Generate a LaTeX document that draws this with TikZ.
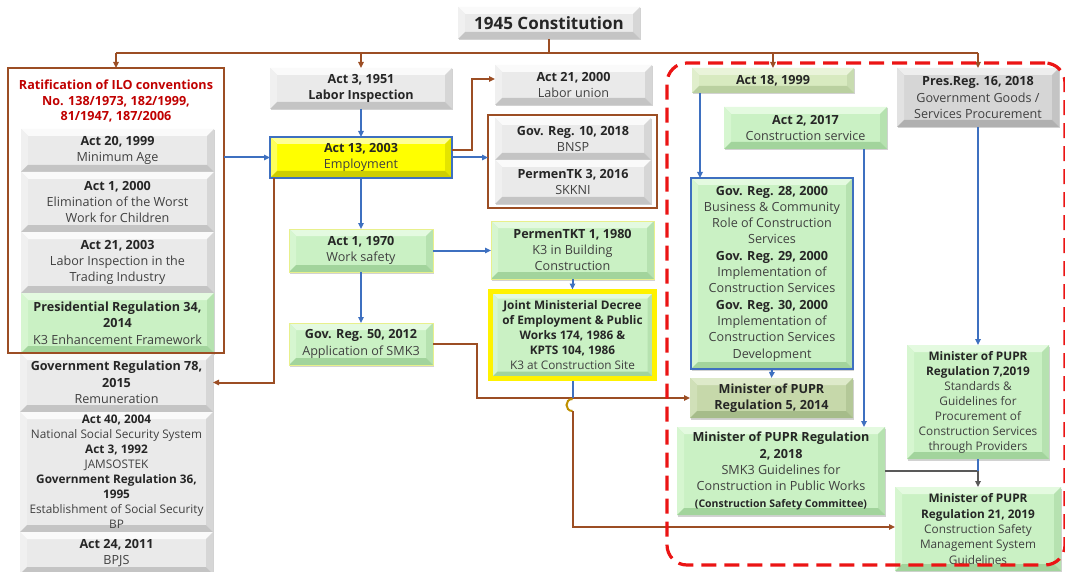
\documentclass[tikz,border=0pt]{standalone}
\usepackage{fontspec}
\setmainfont{Open Sans}
\usetikzlibrary{arrows.meta,shadows,calc}

\definecolor{brn}{RGB}{156,78,36}
\definecolor{blu}{RGB}{62,112,192}
\definecolor{gld}{RGB}{191,144,0}
\definecolor{gryl}{RGB}{89,89,89}
\definecolor{redd}{RGB}{235,20,20}
\definecolor{redt}{RGB}{192,0,0}
\definecolor{hdc}{RGB}{38,38,38}
\definecolor{rgc}{RGB}{64,64,64}
% gray
\definecolor{gF}{RGB}{234,234,234}\definecolor{gT}{RGB}{250,250,250}
\definecolor{gL}{RGB}{240,240,240}\definecolor{gR}{RGB}{214,214,214}\definecolor{gB}{RGB}{196,196,196}
% dark gray
\definecolor{dF}{RGB}{214,214,214}\definecolor{dT}{RGB}{238,238,238}
\definecolor{dL}{RGB}{226,226,226}\definecolor{dR}{RGB}{196,196,196}\definecolor{dB}{RGB}{176,176,176}
% green
\definecolor{nF}{RGB}{202,241,196}\definecolor{nT}{RGB}{228,250,224}
\definecolor{nL}{RGB}{214,246,208}\definecolor{nR}{RGB}{182,226,176}\definecolor{nB}{RGB}{162,212,156}
% yellow
\definecolor{yF}{RGB}{255,255,0}\definecolor{yT}{RGB}{255,255,150}
\definecolor{yL}{RGB}{255,255,90}\definecolor{yR}{RGB}{228,228,0}\definecolor{yB}{RGB}{206,206,0}
% olive light
\definecolor{oF}{RGB}{216,234,192}\definecolor{oT}{RGB}{234,244,218}
\definecolor{oL}{RGB}{224,238,204}\definecolor{oR}{RGB}{200,220,176}\definecolor{oB}{RGB}{186,208,160}
% olive dark
\definecolor{pF}{RGB}{198,216,170}\definecolor{pT}{RGB}{222,234,202}
\definecolor{pL}{RGB}{208,224,184}\definecolor{pR}{RGB}{180,200,152}\definecolor{pB}{RGB}{166,188,138}
\definecolor{ybd}{RGB}{232,240,140}

\newcommand\fs[2]{\fontsize{#1}{#2}\selectfont}
\newcommand\hb[1]{{\bfseries\color{hdc}#1}}
\def\bw{7pt}
\newcommand\bevfx[4]{%
\fill[#1] (path picture bounding box.north west) -- (path picture bounding box.north east) -- ([shift={(-\bw,-\bw)}]path picture bounding box.north east) -- ([shift={(\bw,-\bw)}]path picture bounding box.north west) -- cycle;
\fill[#2] (path picture bounding box.north west) -- (path picture bounding box.south west) -- ([shift={(\bw,\bw)}]path picture bounding box.south west) -- ([shift={(\bw,-\bw)}]path picture bounding box.north west) -- cycle;
\fill[#3] (path picture bounding box.north east) -- (path picture bounding box.south east) -- ([shift={(-\bw,\bw)}]path picture bounding box.south east) -- ([shift={(-\bw,-\bw)}]path picture bounding box.north east) -- cycle;
\fill[#4] (path picture bounding box.south west) -- (path picture bounding box.south east) -- ([shift={(-\bw,\bw)}]path picture bounding box.south east) -- ([shift={(\bw,\bw)}]path picture bounding box.south west) -- cycle;
}

\tikzset{
 box/.style={inner sep=0pt, outer sep=0pt, align=center, text=rgc, font=\fs{12.6}{16.3},
   drop shadow={shadow xshift=1.2pt, shadow yshift=-1.5pt, opacity=.25, fill=black!70}},
 gbox/.style={box, fill=gF, path picture={\bevfx{gT}{gL}{gR}{gB}}},
 dbox/.style={box, fill=dF, path picture={\bevfx{dT}{dL}{dR}{dB}}},
 nbox/.style={box, fill=nF, path picture={\bevfx{nT}{nL}{nR}{nB}}},
 ybox/.style={box, fill=yF, path picture={\bevfx{yT}{yL}{yR}{yB}}},
 obox/.style={box, fill=oF, path picture={\bevfx{oT}{oL}{oR}{oB}}},
 pbox/.style={box, fill=pF, path picture={\bevfx{pT}{pL}{pR}{pB}}},
 dense/.style={font=\fs{11.8}{15}},
 cont/.style={draw=brn, line width=1.6pt, inner sep=0pt, outer sep=0pt},
 tip/.style={-{Triangle[length=6pt,width=5.5pt]}},
 brnl/.style={draw=brn, line width=2pt},
 brna/.style={brnl, tip},
 blul/.style={draw=blu, line width=2pt},
 blua/.style={blul, tip},
 grya/.style={draw=gryl, line width=2.2pt, tip},
}

\begin{document}
\begin{tikzpicture}[x=1pt,y=-1pt]
\useasboundingbox (0,0) rectangle (1065,572);

% ---------- boxes ----------
\node[gbox, minimum width=182, minimum height=32, font=\fs{17}{20}] (const) at (549,23) {\hb{1945 Constitution}};

% left column
\node[gbox, minimum width=193, minimum height=43] (a20) at (117.5,150.5) {\hb{Act 20, 1999}\\Minimum Age};
\node[gbox, minimum width=193, minimum height=60] (a1b) at (117.5,202) {\hb{Act 1, 2000}\\Elimination of the Worst\\Work for Children};
\node[gbox, minimum width=193, minimum height=61] (a21b) at (117.5,262.5) {\hb{Act 21, 2003}\\Labor Inspection in the\\Trading Industry};
\node[nbox, minimum width=193, minimum height=60] (pr34) at (117.5,323) {\hb{Presidential Regulation 34,}\\\hb{2014}\\K3 Enhancement Framework};
\node[gbox, minimum width=193, minimum height=59] (gr78) at (116.5,382.5) {\hb{Government Regulation 78,}\\\hb{2015}\\Remuneration};
\node[gbox, dense, minimum width=193, minimum height=120] (a40) at (116.5,472) {\hb{Act 40, 2004}\\National Social Security System\\\hb{Act 3, 1992}\\JAMSOSTEK\\\hb{Government Regulation 36,}\\\hb{1995}\\Establishment of Social Security\\BP};
\node[gbox, minimum width=193, minimum height=42] (a24) at (116.5,553) {\hb{Act 24, 2011}\\BPJS};

\node[cont, minimum width=216, minimum height=285] (ilo) at (116,210.5) {};
\node[inner sep=0pt, align=center, font=\fs{12.6}{15.5}, text=redt] (ilot) at (116,101) {\bfseries Ratification of ILO conventions\\\bfseries No. 138/1973, 182/1999,\\\bfseries 81/1947, 187/2006};

% middle
\node[gbox, minimum width=182, minimum height=41] (a3) at (361,88.5) {\hb{Act 3, 1951}\\\hb{Labor Inspection}};
\node[ybox, draw=blu, line width=1.2pt, minimum width=182, minimum height=41] (a13) at (361,157.5) {\hb{Act 13, 2003}\\Employment};
\node[gbox, minimum width=157, minimum height=40] (a21c) at (573.5,85) {\hb{Act 21, 2000}\\Labor union};
\node[gbox, minimum width=156, minimum height=42] (gr10) at (573,139) {\hb{Gov. Reg. 10, 2018}\\BNSP};
\node[gbox, minimum width=156, minimum height=44] (ptk3) at (573,182) {\hb{PermenTK 3, 2016}\\SKKNI};
\node[cont, minimum width=169, minimum height=93] (c2) at (572.5,161.5) {};
\node[nbox, draw=ybd, line width=1pt, minimum width=144, minimum height=43] (a1c) at (361,250.5) {\hb{Act 1, 1970}\\Work safety};
\node[nbox, draw=ybd, line width=1pt, minimum width=163, minimum height=58] (ptkt1) at (572.5,250) {\hb{PermenTKT 1, 1980}\\K3 in Building\\Construction};
\node[nbox, draw=yellow, line width=4.5pt, font=\fs{11.8}{15}, minimum width=164, minimum height=87] (joint) at (572.5,335) {\hb{Joint Ministerial Decree}\\\hb{of Employment \& Public}\\\hb{Works 174, 1986 \&}\\\hb{KPTS 104, 1986}\\K3 at Construction Site};
\node[nbox, draw=ybd, line width=1pt, minimum width=144, minimum height=42] (gr50) at (361,344) {\hb{Gov. Reg. 50, 2012}\\Application of SMK3};

% right
\node[obox, minimum width=162, minimum height=25] (a18) at (773,80.5) {\hb{Act 18, 1999}};
\node[nbox, minimum width=163, minimum height=42] (a2) at (805.5,128) {\hb{Act 2, 2017}\\Construction service};
\node[dbox, minimum width=162, minimum height=59] (pr16) at (978,97.5) {\hb{Pres.Reg. 16, 2018}\\Government Goods /\\Services Procurement};
\node[nbox, draw=blu, line width=1.2pt, minimum width=162, minimum height=191] (gr28) at (772,273.5) {\hb{Gov. Reg. 28, 2000}\\Business \& Community\\Role of Construction\\Services\\\hb{Gov. Reg. 29, 2000}\\Implementation of\\Construction Services\\\hb{Gov. Reg. 30, 2000}\\Implementation of\\Construction Services\\Development};
\node[pbox, minimum width=163, minimum height=40] (pupr5) at (771.5,398) {\hb{Minister of PUPR}\\\hb{Regulation 5, 2014}};
\node[nbox, minimum width=208, minimum height=88] (pupr2) at (781,471) {\hb{Minister of PUPR Regulation}\\\hb{2, 2018}\\SMK3 Guidelines for\\Construction in Public Works\\{\fs{10.5}{15}\hb{(Construction Safety Committee)}}};
\node[nbox, dense, minimum width=142, minimum height=114] (pupr7) at (978,402) {\hb{Minister of PUPR}\\\hb{Regulation 7,2019}\\Standards \&\\Guidelines for\\Procurement of\\Construction Services\\through Providers};
\node[nbox, font=\fs{11.8}{15.3}, minimum width=166, minimum height=84] (pupr21) at (978,529) {\hb{Minister of PUPR}\\\hb{Regulation 21, 2019}\\Construction Safety\\Management System\\Guidelines};

% ---------- connectors ----------
\draw[brnl] (const.south) -- ++(0,14) coordinate (cj);
\draw[brnl] (cj -| ilo.north) -- (cj -| pr16.north);
\draw[brna] (cj -| ilo.north) -- (ilo.north);
\draw[brna] (cj -| a3.north) -- (a3.north);
\draw[brna] (cj -| a18.north) -- (a18.north);
\draw[brna] (cj -| pr16.north) -- (pr16.north);

\draw[blua] (ilo.east |- a13.west) -- (a13.west);
\draw[blua] (a3.south) -- (a13.north);
\draw[blua] (a13.east) -- (a13.east -| c2.west);
\draw[blua] (a13.south) -- (a1c.north);
\draw[blua] (a1c.east) -- (a1c.east -| ptkt1.west);
\draw[blua] (ptkt1.south) -- ([yshift=2pt]joint.north);
\draw[blua] (a1c.south) -- (gr50.north);

\draw[brna] ([yshift=7pt]a13.east) -- ++(20,0) |- ([yshift=6pt]a21c.west);
\draw[brna] ([xshift=4pt]a13.south west) |- (gr78.east);
\draw[brna] (gr50.east) -- ++(44,0) |- (pupr5.west);

\coordinate (h1) at (joint.south |- pupr5.west);
\coordinate (h2) at ([yshift=-13pt]h1);
\draw[blul] ([yshift=-2pt]joint.south) -- (h1);
\draw[draw=gld, line width=2pt] ([yshift=-1pt]h1) .. controls +(-8,0) and +(-8,0) .. (h2);
\draw[brna] (h2) |- ([yshift=2pt]pupr21.west);

\draw[blua] ([xshift=8pt]a18.south west) -- ([xshift=9pt]gr28.north west);
\draw[blua] ([xshift=-23pt]a2.south east) -- ([xshift=-21pt]pupr2.north east);
\draw[blua] (pr16.south) -- (pupr7.north);
\draw[blua] (gr28.south) -- (pupr5.north);
\draw[grya] (pupr2.east) -| (pupr21.north);
\draw[blul] (pupr7.south) -- (pupr7.south |- pupr2.east);

% red dashed region
\node[draw=redd, line width=3.2pt, dash pattern=on 15pt off 8pt, rounded corners=20pt, inner sep=0pt, minimum width=398, minimum height=502] (zone) at (866,314) {};
\end{tikzpicture}
\end{document}
